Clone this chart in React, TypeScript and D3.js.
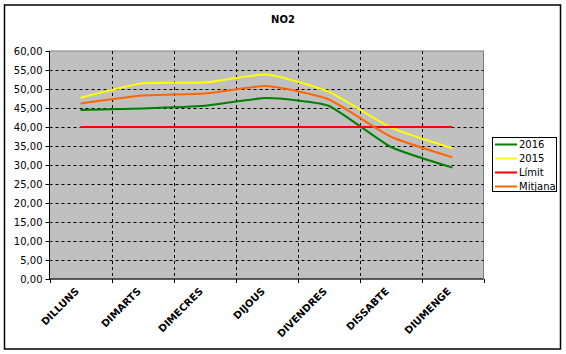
import React from "react";
import * as d3 from "d3";

const categories = ["DILLUNS", "DIMARTS", "DIMECRES", "DIJOUS", "DIVENDRES", "DISSABTE", "DIUMENGE"];
const s2016 = [44.5, 44.9, 45.6, 47.6, 45.6, 34.8, 29.3];
const s2015 = [47.7, 51.5, 51.7, 53.8, 49.3, 39.9, 34.4];
const sLimit = [40, 40, 40, 40, 40, 40, 40];
const sMitjana = [46.2, 48.3, 48.8, 50.8, 47.3, 37.5, 32.0];
const yTicks = [0, 5, 10, 15, 20, 25, 30, 35, 40, 45, 50, 55, 60];

const series = [
  { name: "2016", values: s2016, color: "#008000" },
  { name: "2015", values: s2015, color: "#FFFF00" },
  { name: "Límit", values: sLimit, color: "#FF0000" },
  { name: "Mitjana", values: sMitjana, color: "#FF6600" },
];

const W = 566, H = 354;
const L = 49.5, R = 483.5, T = 51, B = 279;

export default function App() {
  const x = d3.scaleBand<string>().domain(categories).range([L, R]);
  const y = d3.scaleLinear().domain([0, 60]).range([B, T]);
  const font = "'DejaVu Sans', Verdana, sans-serif";
  const line = (vals: number[]) =>
    d3
      .line<number>()
      .x((_, i) => (x(categories[i]) as number) + x.bandwidth() / 2)
      .y((v) => y(v))
      .curve(d3.curveCardinal.tension(0.5))(vals) as string;

  return (
    <svg width={W} height={H} style={{ position: "absolute", left: 0, top: 0 }}>
      <rect x={0} y={0} width={W} height={H} fill="#fff" />
      <rect x={4.5} y={5} width={556} height={344} fill="#fff" stroke="#000" strokeWidth={1.5} />
      <text x={283} y={23} textAnchor="middle" fontFamily={font} fontSize={10} fontWeight="bold">NO2</text>
      <rect x={L} y={T} width={R - L} height={B - T} fill="#C0C0C0" stroke="#808080" strokeWidth={1} />
      {yTicks.slice(1, -1).map((t) => (
        <line key={t} x1={L} x2={R} y1={Math.round(y(t)) + 0.5} y2={Math.round(y(t)) + 0.5} stroke="#000" strokeDasharray="3,3" />
      ))}
      {categories.slice(1).map((c) => (
        <line key={c} x1={Math.round(x(c) as number) + 0.5} x2={Math.round(x(c) as number) + 0.5} y1={T} y2={B} stroke="#000" strokeDasharray="3,3" />
      ))}
      <line x1={L} x2={L} y1={T} y2={B + 0.5} stroke="#000" />
      <line x1={L} x2={R} y1={B} y2={B} stroke="#000" />
      {yTicks.map((t) => (
        <g key={t}>
          <line x1={L - 4} x2={L} y1={Math.round(y(t)) + 0.5} y2={Math.round(y(t)) + 0.5} stroke="#000" />
          <text x={L - 7} y={y(t) + 3.5} textAnchor="end" fontFamily={font} fontSize={10} fill="#000">
            {d3.format(".2f")(t).replace(".", ",")}
          </text>
        </g>
      ))}
      {[...categories.map((c) => x(c) as number), R].map((px, i) => (
        <line key={i} x1={Math.round(px) + 0.5} x2={Math.round(px) + 0.5} y1={B} y2={B + 4} stroke="#000" />
      ))}
      {categories.map((c) => {
        const cx = (x(c) as number) + x.bandwidth() / 2;
        return (
          <text key={c} transform={`translate(${cx - 1},${B + 13}) rotate(-45)`} textAnchor="end" fontFamily={font} fontSize={10} fontWeight="bold">
            {c}
          </text>
        );
      })}
      {series.map((s) => (
        <path key={s.name} d={line(s.values)} fill="none" stroke={s.color} strokeWidth={2} />
      ))}
      <rect x={492.5} y={137.5} width={64} height={54} fill="#fff" stroke="#000" strokeWidth={1} />
      {series.map((s, i) => (
        <g key={s.name}>
          <line x1={495} x2={517} y1={144.5 + i * 14} y2={144.5 + i * 14} stroke={s.color} strokeWidth={2} />
          <text x={519} y={148 + i * 14} fontFamily={font} fontSize={10} fill="#000">{s.name}</text>
        </g>
      ))}
    </svg>
  );
}
